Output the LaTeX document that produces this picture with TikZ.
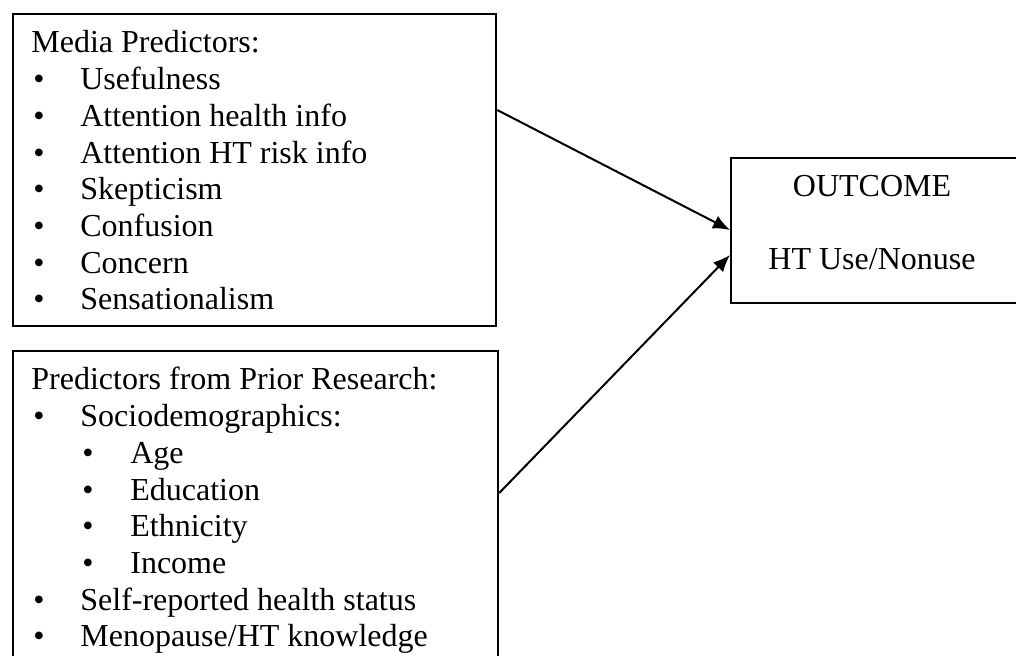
\documentclass[tikz,border=0pt]{standalone}
\usepackage{fontspec}
\setmainfont{Liberation Serif}
\usetikzlibrary{arrows.meta}

% bullet lines, first and second level
\newcommand{\itm}[1]{\hspace*{1pt}\makebox[23.5pt][l]{\textbullet}#1}
\newcommand{\subitm}[1]{\hspace*{25.5pt}\makebox[24pt][l]{\textbullet}#1}

\tikzset{
  box/.style={draw, line width=1.1pt, anchor=north west, inner sep=0pt},
  txt/.style={anchor=base west, inner sep=0pt, font=\fontsize{16}{18}\selectfont},
  ctxt/.style={anchor=base, inner sep=0pt, font=\fontsize{16}{18}\selectfont},
  link/.style={-{Latex[length=8.5pt,width=7pt]}, line width=1pt}
}

\begin{document}
\begin{tikzpicture}[x=0.5pt,y=-0.5pt]
    % Page frame
    \useasboundingbox (0,0) rectangle (1016,656);
    \clip (0,0) rectangle (1016,656);

    % Boxes
    \node[box, minimum width=241.5pt, minimum height=156pt] (media) at (12,13) {};
    \node[box, minimum width=242.5pt, minimum height=180pt] (prior) at (12,350) {};
    \node[box, minimum width=150pt, minimum height=72.5pt] (outcome) at (730,157) {};

    % Media predictors list
    \node[txt] (media-head) at (31,53) {Media Predictors:};
    \foreach \t [count=\i] in {Usefulness, Attention health info, Attention HT risk info,
        Skepticism, Confusion, Concern, Sensationalism}
      \node[txt] (media-\i) at (31,{53+36.7*\i}) {\itm{\t}};

    % Predictors from prior research list
    \node[txt] (prior-head) at (31,390) {Predictors from Prior Research:};
    \foreach \t [count=\i] in {\itm{Sociodemographics:}, \subitm{Age}, \subitm{Education},
        \subitm{Ethnicity}, \subitm{Income}, \itm{Self-reported health status},
        \itm{Menopause/HT knowledge}}
      \node[txt] (prior-\i) at (31,{390+36.7*\i}) {\t};

    % Outcome
    \node[ctxt] (outcome-head) at (872,197) {OUTCOME};
    \node[ctxt] (outcome-var) at (872,270) {HT Use/Nonuse};

    % Arrows into the outcome
    \draw[link] ([yshift=-48.5pt]media.north east) -- ([yshift=-36.5pt]outcome.north west);
    \draw[link] ([yshift=-71.5pt]prior.north east) -- ([yshift=-49pt]outcome.north west);
\end{tikzpicture}
\end{document}
